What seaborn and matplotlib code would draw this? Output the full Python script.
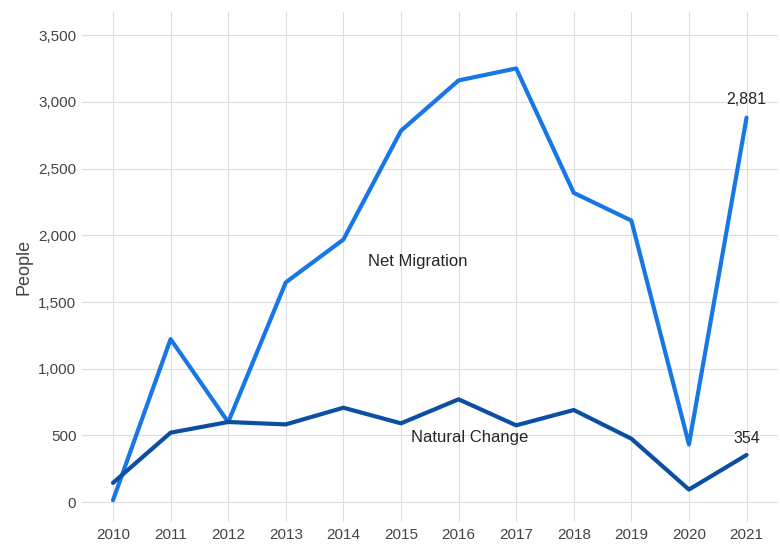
import matplotlib.pyplot as plt
import seaborn as sns
import pandas as pd

# Data
years = list(range(2010, 2022))
net_migration = [15, 1222, 600, 1647, 1968, 2783, 3160, 3250, 2318, 2110, 433, 2881]
natural_change = [145, 521, 601, 583, 708, 591, 771, 576, 691, 476, 95, 354]

df = pd.DataFrame({
    "Year": years * 2,
    "People": net_migration + natural_change,
    "Series": ["Net Migration"] * len(years) + ["Natural Change"] * len(years),
})

colors = {"Net Migration": "#1877E6", "Natural Change": "#0B4EA2"}

sns.set_style("whitegrid", {"grid.color": "#dddddd", "axes.edgecolor": "white"})
plt.rcParams['font.family'] = ['Liberation Sans', 'DejaVu Sans']

fig = plt.figure(figsize=(7.8, 5.44), dpi=100)
ax = fig.add_axes([0.105, 0.04, 0.892, 0.938])

sns.lineplot(data=df, x="Year", y="People", hue="Series", palette=colors,
             linewidth=3, legend=False, ax=ax)

ax.set_xlim(2009.46, 2021.54)
ax.set_ylim(-150, 3673)
ax.set_xticks(years)
ax.set_yticks(range(0, 3501, 500))
ax.set_yticklabels([f"{v:,}" for v in range(0, 3501, 500)])
ax.tick_params(axis="both", labelsize=11, labelcolor="#444444", length=0, pad=4)
ax.set_xlabel("")
ax.set_ylabel("People", fontsize=13, color="#444444")
for s in ax.spines.values():
    s.set_visible(False)

# Series labels
ax.text(2014.42, 1800, "Net Migration", fontsize=12, ha="left", va="center")
ax.text(2015.18, 485, "Natural Change", fontsize=12, ha="left", va="center")

# End value labels
ax.text(years[-1], net_migration[-1] + 135, f"{net_migration[-1]:,}", fontsize=11.5, ha="center", va="center")
ax.text(years[-1], natural_change[-1] + 125, f"{natural_change[-1]:,}", fontsize=11.5, ha="center", va="center")

fig.savefig("out.png", dpi=100)
